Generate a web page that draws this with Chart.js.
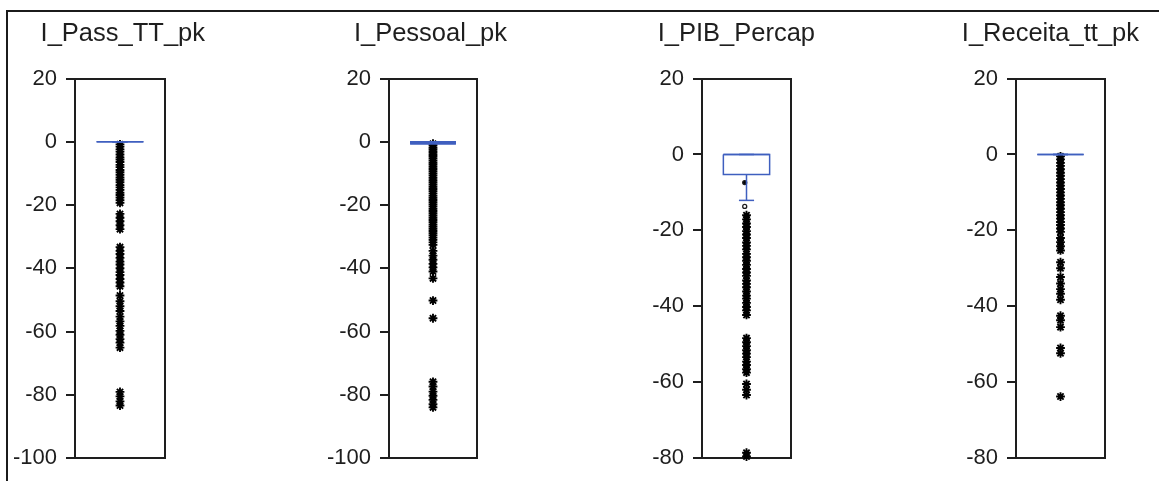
<!DOCTYPE html>
<html lang="pt">
<head>
<meta charset="UTF-8">
<title>Boxplots</title>
<script src="https://cdn.jsdelivr.net/npm/chart.js"></script>
<style>
  body { margin: 0; background: #fff; width: 1159px; height: 481px; overflow: hidden; position: relative; }
  .frame { position: absolute; left: 6px; top: 10px; right: 0; bottom: 0; border-left: 2px solid #1b1b1b; border-top: 2px solid #1b1b1b; }
  canvas { position: absolute; top: 0; }
</style>
</head>
<body>
<div class="frame"></div>
<canvas id="c0"></canvas>
<canvas id="c1"></canvas>
<canvas id="c2"></canvas>
<canvas id="c3"></canvas>

<script>
const titles = ['I_Pass_TT_pk', 'I_Pessoal_pk', 'I_PIB_Percap', 'I_Receita_tt_pk'];
const yMin = [-100, -100, -80, -80];
const yMax = [20, 20, 20, 20];
const yStep = 20;

// box statistics per variable
const q1 = [0, -0.3, -5.3, 0];
const median = [0, -0.3, 0, 0];
const q3 = [0, -0.3, 0, 0];
const whiskerLow = [0, -0.3, -12.1, 0];
const whiskerHigh = [0, -0.3, 0, 0];

// "o" outliers
const outliers = [
  [],
  [],
  [-7.4, -13.7],
  []
];

// "*" extreme values
const extremes = [
  [-0.8, -1.5, -2.4, -3.1, -4, -4.9, -5.6, -6.4, -7.3, -8, -8.9, -9.6, -10.4, -11.3, -12, -12.8,
   -13.7, -14.4, -15.2, -16.1, -16.8, -17.6, -18.5, -19.3, -22.8, -24, -25.1, -26.4, -27.6,
   -33.3, -34.5, -35.5, -36.7, -37.9, -38.8, -40, -41.2, -42.1, -43.4, -44.5, -45.7,
   -48.6, -50.4, -52, -53.5, -55.3, -56.8, -58.2, -59.8, -61, -62.4, -63.5, -65.1,
   -79.1, -80.5, -82.1, -83.4],
  [-0.6, -1.2, -1.9, -2.5, -3.2, -3.9, -4.5, -5.2, -5.9, -6.6, -7.2, -7.9, -8.6, -9.3, -10, -10.7,
   -11.4, -12.1, -12.8, -13.5, -14.2, -14.9, -15.6, -16.3, -17, -17.7, -18.4, -19.1, -19.8, -20.5,
   -21.2, -21.9, -22.6, -23.3, -24, -24.7, -25.4, -26.1, -26.8, -27.5, -28.2, -28.9, -29.6, -30.3,
   -31, -31.8, -32.6, -34.5, -36, -37.3, -38.6, -39.7, -41, -43.2, -50.2, -55.8,
   -75.9, -77.4, -79, -80.3, -81.6, -83, -84],
  [-16, -17.1, -18.2, -19.1, -20.2, -21.1, -22, -23.2, -24.1, -25, -26.2, -27.1, -28, -29.1, -30.2,
   -31.1, -32, -33.2, -34.1, -35, -36.1, -37.2, -38, -39.1, -40.2, -41.1, -42.3,
   -48.4, -49.5, -50.5, -51.6, -52.5, -53.4, -54.6, -55.5, -56.6, -57.5, -60.5, -62, -63.4,
   -78.6, -79.6],
  [-0.5, -1.3, -2.2, -3, -3.9, -4.8, -5.6, -6.5, -7.4, -8.2, -9.1, -10, -10.8, -11.7, -12.6, -13.4,
   -14.3, -15.2, -16, -16.9, -17.8, -18.6, -19.5, -20.4, -22, -23.1, -24.2, -25.3,
   -28.4, -30, -32.3, -34, -35.5, -36.7, -38.3, -42.5, -43.7, -45.5, -51, -52.4, -63.8]
];

// panel geometry: canvas left/width, left axis width, right axis width
const panelLeft = [8, 320, 640, 950];
const panelWidth = [197, 187, 175, 189];
const axisLeftWidth = [67, 69, 62, 66];
const axisRightWidth = [40, 30, 24, 34];
const boxLineWidth = [1.5, 3.5, 1.5, 1.5];

const INK = '#1e1e1e';
const BLUE = '#3f5fbf';
const FONT = '"Liberation Sans", Arial, sans-serif';
const CENTER = 0.5, HALF = 0.26, CAP = 0.085;

function seg(x1, y1, x2, y2) {
  return [{x: x1, y: y1}, {x: x2, y: y2}];
}

function lineSet(data, width) {
  return {
    data: data, showLine: true, pointRadius: 0, borderColor: BLUE,
    borderWidth: width, fill: false, clip: false
  };
}

function makeChart(i) {
  const canvas = document.getElementById('c' + i);
  canvas.width = panelWidth[i];
  canvas.height = 481;
  canvas.style.left = panelLeft[i] + 'px';

  const lw = boxLineWidth[i];
  const datasets = [
    lineSet([
      {x: CENTER - HALF, y: q3[i]}, {x: CENTER + HALF, y: q3[i]},
      {x: CENTER + HALF, y: q1[i]}, {x: CENTER - HALF, y: q1[i]},
      {x: CENTER - HALF, y: q3[i]}
    ], lw),
    lineSet(seg(CENTER - HALF, median[i], CENTER + HALF, median[i]), lw),
    lineSet(seg(CENTER, q1[i], CENTER, whiskerLow[i]), 1.5),
    lineSet(seg(CENTER - CAP, whiskerLow[i], CENTER + CAP, whiskerLow[i]), 1.5),
    lineSet(seg(CENTER, q3[i], CENTER, whiskerHigh[i]), 1.5),
    lineSet(seg(CENTER - CAP, whiskerHigh[i], CENTER + CAP, whiskerHigh[i]), 1.5),
    {
      data: outliers[i].map(v => ({x: CENTER - 0.02, y: v})),
      pointStyle: 'circle', pointRadius: 2, borderColor: INK,
      backgroundColor: ['#000', '#fff'],
      borderWidth: 1.3, clip: false
    },
    {
      data: extremes[i].map(v => ({x: CENTER, y: v})),
      pointStyle: 'star', pointRadius: 4.4, borderColor: '#000', backgroundColor: '#000',
      borderWidth: 1.9, clip: false
    }
  ];

  const hidden = {display: false};
  new Chart(canvas, {
    type: 'scatter',
    data: {datasets: datasets},
    options: {
      responsive: false,
      animation: false,
      events: [],
      layout: {padding: {top: 19, left: 0, right: 0, bottom: 23}},
      plugins: {
        legend: hidden,
        tooltip: {enabled: false},
        title: {
          display: true,
          text: titles[i],
          align: 'end',
          color: INK,
          font: {family: FONT, size: 25.5, weight: 'normal'},
          padding: {top: 0, bottom: 29}
        }
      },
      scales: {
        x: {
          type: 'linear', min: 0, max: 1,
          ticks: hidden, grid: hidden,
          border: {display: true, color: INK, width: 2},
          afterFit: s => { s.height = 0; }
        },
        xTop: {
          type: 'linear', position: 'top', min: 0, max: 1,
          ticks: hidden, grid: hidden,
          border: {display: true, color: INK, width: 2},
          afterFit: s => { s.height = 0; }
        },
        y: {
          min: yMin[i], max: yMax[i],
          ticks: {stepSize: yStep, padding: 9, color: INK, font: {family: FONT, size: 22}},
          grid: {drawOnChartArea: false, drawTicks: true, tickLength: 9, color: INK, lineWidth: 2},
          border: {display: true, color: INK, width: 2},
          afterFit: s => { s.width = axisLeftWidth[i]; }
        },
        yRight: {
          position: 'right', min: yMin[i], max: yMax[i],
          ticks: hidden, grid: hidden,
          border: {display: true, color: INK, width: 2},
          afterFit: s => { s.width = axisRightWidth[i]; }
        }
      }
    }
  });
}

for (let i = 0; i < titles.length; i++) {
  makeChart(i);
}
</script>
</body>
</html>
